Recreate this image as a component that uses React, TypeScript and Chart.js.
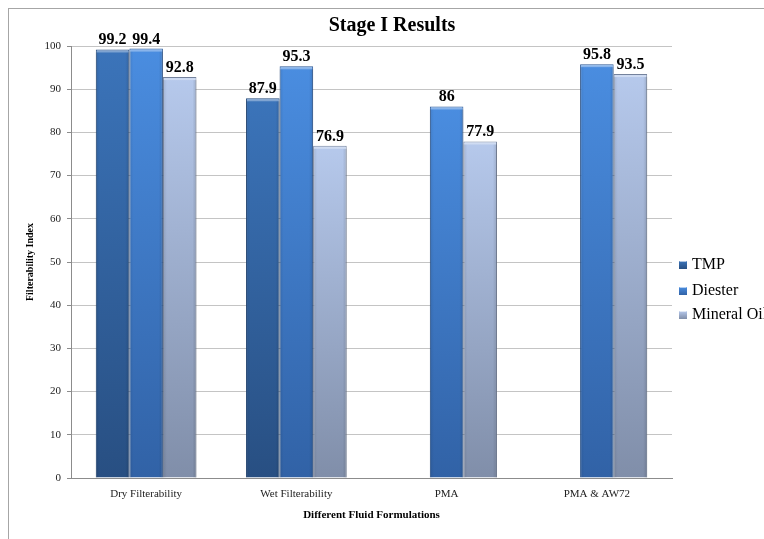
import React, { useEffect, useRef } from "react";
import { Chart, registerables } from "chart.js";

Chart.register(...registerables);

const categories = ["Dry Filterability", "Wet Filterability", "PMA", "PMA & AW72"];
const tmpValues: (number | null)[] = [99.2, 87.9, null, null];
const diesterValues: (number | null)[] = [99.4, 95.3, 86, 95.8];
const mineralOilValues: (number | null)[] = [92.8, 76.9, 77.9, 93.5];
const seriesNames = ["TMP", "Diester", "Mineral Oil"];
const yMin = 0;
const yMax = 100;
const yStep = 10;

const FONT = "'Liberation Serif', 'Times New Roman', serif";

const palettes = [
  { top: "#3B74BA", bottom: "#284F82", border: "#24497A" },
  { top: "#4A8DE0", bottom: "#3162A6", border: "#2D5894" },
  { top: "#B6C9EC", bottom: "#808EA9", border: "#74829C" },
];

function barGradient(idx: number) {
  return (ctx: any) => {
    const chart = ctx.chart;
    const p = palettes[idx];
    const yScale = chart.scales?.y;
    const v = ctx.raw;
    if (!yScale || v == null || ctx.type !== "data") return p.top;
    const top = yScale.getPixelForValue(v);
    const bottom = yScale.getPixelForValue(0);
    if (!isFinite(top) || !isFinite(bottom) || bottom - top < 1) return p.top;
    const g = chart.ctx.createLinearGradient(0, top, 0, bottom);
    g.addColorStop(0, p.top);
    g.addColorStop(1, p.bottom);
    return g;
  };
}

const decorPlugin = {
  id: "decor",
  afterDatasetsDraw(chart: any) {
    const ctx = chart.ctx;
    ctx.save();
    chart.data.datasets.forEach((ds: any, di: number) => {
      const meta = chart.getDatasetMeta(di);
      meta.data.forEach((el: any, i: number) => {
        const v = ds.data[i];
        if (v == null) return;
        const w = el.width;
        const left = el.x - w / 2;
        const right = el.x + w / 2;
        const top = el.y;
        const bottom = el.base;
        ctx.fillStyle = "rgba(255,255,255,0.35)";
        ctx.fillRect(left + 1, top + 1, w - 2, 2);
        const sg = ctx.createLinearGradient(left, 0, right, 0);
        sg.addColorStop(0, "rgba(0,0,0,0.10)");
        sg.addColorStop(0.12, "rgba(0,0,0,0)");
        sg.addColorStop(0.88, "rgba(0,0,0,0)");
        sg.addColorStop(1, "rgba(0,0,0,0.14)");
        ctx.fillStyle = sg;
        ctx.fillRect(left, top + 3, w, bottom - top - 3);
      });
    });
    ctx.fillStyle = "#000";
    ctx.font = `bold 16px ${FONT}`;
    ctx.textAlign = "center";
    ctx.textBaseline = "alphabetic";
    chart.data.datasets.forEach((ds: any, di: number) => {
      const meta = chart.getDatasetMeta(di);
      meta.data.forEach((el: any, i: number) => {
        const v = ds.data[i];
        if (v == null) return;
        ctx.fillText(String(v), el.x, el.y - 5);
      });
    });
    ctx.font = `bold 20px ${FONT}`;
    ctx.textBaseline = "middle";
    ctx.fillText("Stage I Results", 383, 17);
    ctx.font = `16px ${FONT}`;
    ctx.textAlign = "left";
    const ys = [256, 282, 306];
    seriesNames.forEach((name, i) => {
      const p = palettes[i];
      const lg = ctx.createLinearGradient(0, ys[i] - 4, 0, ys[i] + 4);
      lg.addColorStop(0, p.top);
      lg.addColorStop(1, p.bottom);
      ctx.fillStyle = lg;
      ctx.fillRect(670, ys[i] - 4, 8, 8);
      ctx.strokeStyle = "rgba(255,255,255,0.6)";
      ctx.lineWidth = 1;
      ctx.beginPath();
      ctx.moveTo(670.5, ys[i] - 3.5);
      ctx.lineTo(677.5, ys[i] - 3.5);
      ctx.stroke();
      ctx.fillStyle = "#000";
      ctx.fillText(name, 683, ys[i]);
    });
    ctx.restore();
  },
};

export default function App() {
  const ref = useRef<HTMLCanvasElement | null>(null);

  useEffect(() => {
    document.documentElement.style.overflow = "hidden";
    document.body.style.overflow = "hidden";
    const canvas = ref.current;
    if (!canvas) return;
    const seriesValues = [tmpValues, diesterValues, mineralOilValues];
    const chart = new Chart(canvas, {
      type: "bar",
      data: {
        labels: categories,
        datasets: seriesNames.map((name, i) => ({
          label: name,
          data: seriesValues[i],
          backgroundColor: barGradient(i),
          borderColor: palettes[i].border,
          borderWidth: 1,
          categoryPercentage: 0.67,
          barPercentage: 1.0,
        })),
      },
      options: {
        responsive: false,
        animation: false,
        devicePixelRatio: 1,
        layout: { padding: { top: 37, right: 97, left: 0, bottom: 0 } },
        plugins: {
          legend: { display: false },
          title: { display: false },
          tooltip: { enabled: false },
        },
        scales: {
          x: {
            afterFit: (scale: any) => {
              scale.height = 61;
            },
            grid: { display: false, drawTicks: false },
            border: { display: true, color: "#8C8C8C", width: 1 },
            ticks: {
              padding: 10,
              color: "#222",
              font: { family: FONT, size: 11 },
              maxRotation: 0,
            },
            title: {
              display: true,
              text: "Different Fluid Formulations",
              color: "#000",
              font: { family: FONT, size: 11, weight: "bold" },
              padding: { top: 0, bottom: 17 },
            },
          },
          y: {
            min: yMin,
            max: yMax,
            afterFit: (scale: any) => {
              scale.width = 62;
            },
            grid: {
              color: "#C4C4C4",
              lineWidth: 1,
              tickLength: 4,
              tickColor: "#8C8C8C",
            },
            border: { display: true, color: "#8C8C8C", width: 1 },
            ticks: {
              stepSize: yStep,
              padding: 6,
              color: "#222",
              font: { family: FONT, size: 11 },
            },
            title: {
              display: true,
              text: "Filterability Index",
              color: "#000",
              font: { family: FONT, size: 10, weight: "bold" },
              padding: { top: 15, bottom: 0 },
            },
          },
        },
      },
      plugins: [decorPlugin],
    });
    return () => chart.destroy();
  }, []);

  return (
    <div
      style={{
        position: "fixed",
        left: 8,
        top: 8,
        width: 760,
        height: 530,
        borderLeft: "1px solid #A6A6A6",
        borderTop: "1px solid #A6A6A6",
        background: "#fff",
      }}
    >
      <canvas ref={ref} width={760} height={530} style={{ display: "block" }} />
    </div>
  );
}
